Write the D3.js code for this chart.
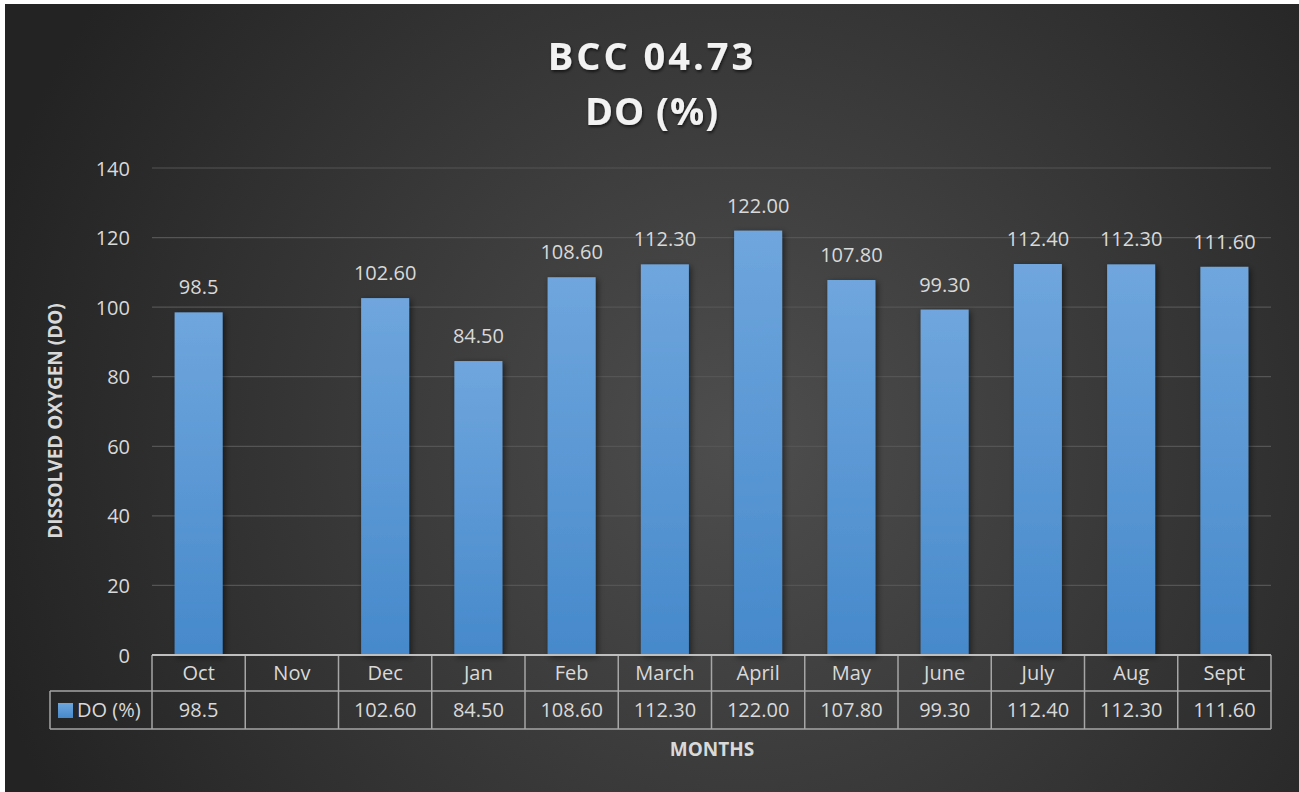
<!DOCTYPE html>
<html><head><meta charset="utf-8">
<script src="https://cdn.jsdelivr.net/npm/d3@7"></script>
<style>
html,body{margin:0;padding:0;background:#fff;}
svg{display:block;}
</style></head>
<body><div id="chart"></div>
<script>
const months = ["Oct","Nov","Dec","Jan","Feb","March","April","May","June","July","Aug","Sept"];
const doValues = [98.5, null, 102.6, 84.5, 108.6, 112.3, 122.0, 107.8, 99.3, 112.4, 112.3, 111.6];
const valueLabels = ["98.5","","102.60","84.50","108.60","112.30","122.00","107.80","99.30","112.40","112.30","111.60"];
const yTicks = [0,20,40,60,80,100,120,140];
const titleLines = ["BCC 04.73","DO (%)"];
const seriesName = "DO (%)";
const xTitle = "MONTHS";
const yTitle = "DISSOLVED OXYGEN (DO)";

(function(){
const W = 1299, H = 792;
const FONT = "'Open Sans', sans-serif";
const LBL = "20px";
const svg = d3.select("#chart").append("svg").attr("width", W).attr("height", H);
const defs = svg.append("defs");

const bg = defs.append("radialGradient").attr("id","bg").attr("gradientUnits","userSpaceOnUse")
  .attr("cx",740).attr("cy",440).attr("r",780);
bg.append("stop").attr("offset","0%").attr("stop-color","#4e4e4e");
bg.append("stop").attr("offset","100%").attr("stop-color","#232323");

const barG = defs.append("linearGradient").attr("id","barg").attr("x1",0).attr("y1",0).attr("x2",0).attr("y2",1);
barG.append("stop").attr("offset","0%").attr("stop-color","#6fa6dd");
barG.append("stop").attr("offset","100%").attr("stop-color","#4689cb");

const sh = defs.append("filter").attr("id","shadow").attr("x","-30%").attr("y","-10%").attr("width","160%").attr("height","120%");
sh.append("feDropShadow").attr("dx",2).attr("dy",2).attr("stdDeviation",3).attr("flood-color","#000").attr("flood-opacity",0.55);
const tsh = defs.append("filter").attr("id","tshadow");
tsh.append("feDropShadow").attr("dx",1).attr("dy",2).attr("stdDeviation",1.5).attr("flood-color","#000").attr("flood-opacity",0.6);

svg.append("rect").attr("x",5).attr("y",4).attr("width",W-5).attr("height",H-4).attr("fill","url(#bg)");

const pL = 152, pR = 1271, pT = 168, pB = 655;
const x = d3.scaleBand().domain(months).range([pL,pR]).paddingInner(0).paddingOuter(0);
const y = d3.scaleLinear().domain([0,140]).range([pB, pT]);

svg.append("g").selectAll("line").data(yTicks.filter(d=>d>0)).join("line")
  .attr("x1",pL).attr("x2",pR).attr("y1",d=>y(d)).attr("y2",d=>y(d))
  .attr("stroke","#555555").attr("stroke-width",1.2);

const yAxis = d3.axisLeft(y).tickValues(yTicks).tickSize(0).tickPadding(0);
const ya = svg.append("g").attr("transform",`translate(${pL-22},0)`).call(yAxis);
ya.select(".domain").remove();
ya.selectAll("text").attr("fill","#d9d9d9").style("font-family",FONT).style("font-size",LBL).attr("dy","0.35em");

const bw = 48;
const data = months.map((m,i)=>({m, v:doValues[i], lab:valueLabels[i]}));
svg.append("g").selectAll("rect").data(data.filter(d=>d.v!=null)).join("rect")
  .attr("x",d=>x(d.m)+x.bandwidth()/2-bw/2).attr("width",bw)
  .attr("y",d=>y(d.v)).attr("height",d=>y(0)-y(d.v))
  .attr("fill","url(#barg)").attr("filter","url(#shadow)");

svg.append("g").selectAll("text").data(data.filter(d=>d.v!=null)).join("text")
  .attr("x",d=>x(d.m)+x.bandwidth()/2).attr("y",d=>y(d.v)-18)
  .attr("text-anchor","middle").attr("fill","#d9d9d9")
  .style("font-family",FONT).style("font-size",LBL)
  .text(d=>d.lab);

const row1 = 655, row2 = 691, row3 = 729, legL = 50;
const tg = svg.append("g");
const stroke = "#a6a6a6";
tg.append("line").attr("x1",legL).attr("x2",pR).attr("y1",row2).attr("y2",row2).attr("stroke",stroke).attr("stroke-width",1.5);
tg.append("line").attr("x1",legL).attr("x2",pR).attr("y1",row3).attr("y2",row3).attr("stroke",stroke).attr("stroke-width",1.5);
tg.append("line").attr("x1",legL).attr("x2",legL).attr("y1",row2).attr("y2",row3).attr("stroke",stroke).attr("stroke-width",1.5);
const bounds = months.map(m=>x(m)).concat([pR]);
tg.selectAll("line.v").data(bounds).join("line").attr("class","v")
  .attr("x1",d=>d).attr("x2",d=>d).attr("y1",row1).attr("y2",row3).attr("stroke",stroke).attr("stroke-width",1.5);
tg.append("line").attr("x1",pL).attr("x2",pR).attr("y1",row1).attr("y2",row1).attr("stroke","#bfbfbf").attr("stroke-width",2);

const xAxis = d3.axisBottom(x).tickSize(0).tickPadding(0);
const xa = svg.append("g").attr("transform",`translate(0,${(row1+row2)/2})`).call(xAxis);
xa.select(".domain").remove();
xa.selectAll("text").attr("fill","#d9d9d9").attr("dy","0.35em").style("font-family",FONT).style("font-size",LBL);

tg.selectAll("text.val").data(data).join("text").attr("class","val")
  .attr("x",d=>x(d.m)+x.bandwidth()/2).attr("y",(row2+row3)/2).attr("dy","0.35em")
  .attr("text-anchor","middle").attr("fill","#d9d9d9")
  .style("font-family",FONT).style("font-size",LBL).text(d=>d.lab);

tg.append("rect").attr("x",58).attr("y",703).attr("width",15).attr("height",15).attr("fill","url(#barg)");
tg.append("text").attr("x",77).attr("y",(row2+row3)/2).attr("dy","0.35em").attr("fill","#d9d9d9")
  .style("font-family",FONT).style("font-size",LBL).text(seriesName);

svg.append("text").attr("x",712).attr("y",749).attr("dy","0.35em").attr("text-anchor","middle")
  .attr("fill","#d9d9d9").style("font-family",FONT).style("font-weight","bold").style("font-size","19px").text(xTitle);
svg.append("text").attr("transform",`translate(55,421) rotate(-90)`).attr("dy","0.35em").attr("text-anchor","middle")
  .attr("fill","#d9d9d9").style("font-family",FONT).style("font-weight","bold").style("font-size","19px").text(yTitle);

svg.append("g").selectAll("text").data(titleLines).join("text")
  .attr("x",652).attr("y",(d,i)=>i===0?57:112).attr("dy","0.35em").attr("text-anchor","middle")
  .attr("fill","#f2f2f2").attr("filter","url(#tshadow)")
  .style("font-family",FONT).style("font-weight","bold").style("font-size","38px")
  .style("letter-spacing",(d,i)=>i===0?"3px":"1px")
  .text(d=>d);
})();
</script></body></html>
